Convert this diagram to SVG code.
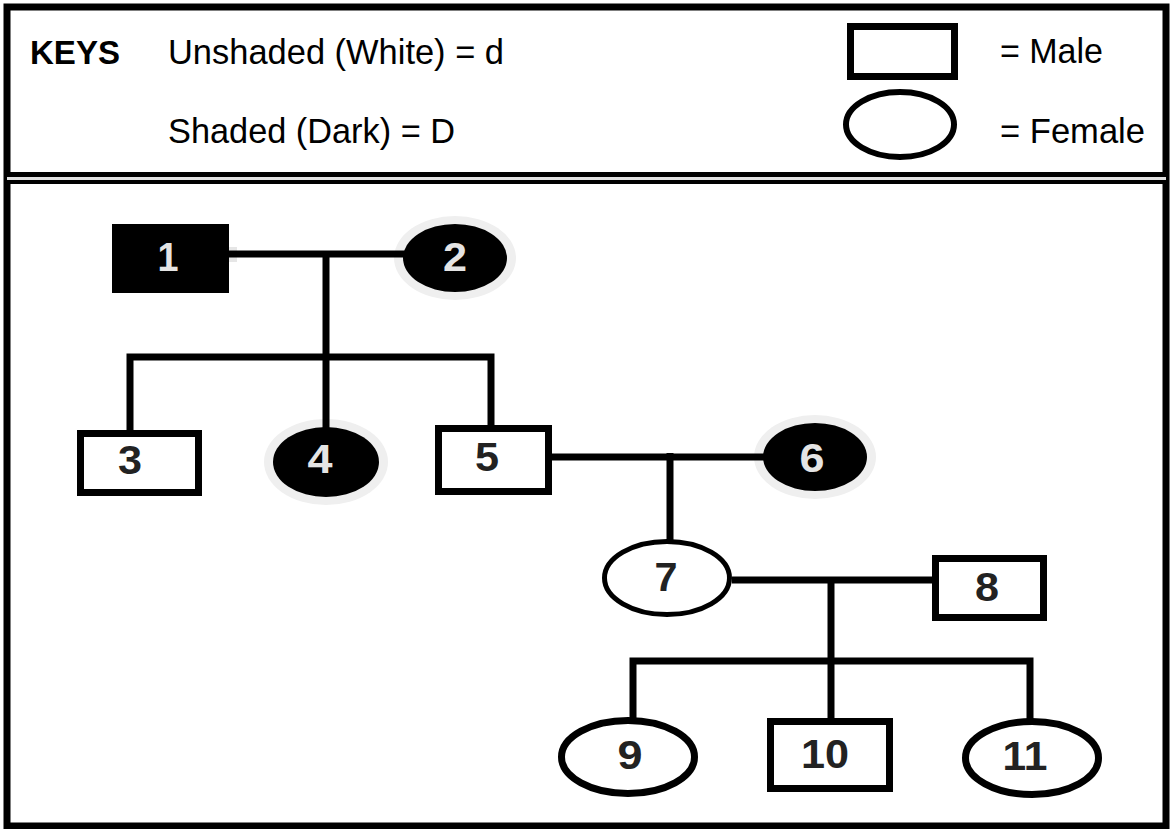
<svg xmlns="http://www.w3.org/2000/svg" width="1171" height="829" viewBox="0 0 1171 829">
<style>
.t{font-family:"Liberation Sans",Arial,sans-serif;font-size:35px;fill:#000}
.kb{font-weight:bold;font-size:33px}
.n{font-family:"Liberation Sans",Arial,sans-serif;font-size:40px;font-weight:bold;text-anchor:middle}
.dk{fill:#222}
.lt{fill:#e4e4e4}
.box{fill:#fff;stroke:#000;stroke-width:7}
.ov{fill:#fff;stroke:#000;stroke-width:7}
.blk{fill:#000}
.halo{fill:#efefef}
.c{fill:none;stroke:#000;stroke-width:7;stroke-linejoin:miter;stroke-linecap:butt}
</style>
<rect x="0" y="0" width="1171" height="829" fill="#fff"/>
<g id="frame">
<rect x="7" y="7" width="1159" height="819" fill="none" stroke="#000" stroke-width="7"/>
<line x1="7" y1="174.5" x2="1166" y2="174.5" stroke="#000" stroke-width="5"/>
<line x1="7" y1="178.5" x2="1166" y2="178.5" stroke="#e0e0e0" stroke-width="3"/>
<line x1="7" y1="182" x2="1166" y2="182" stroke="#000" stroke-width="4"/>
</g>
<g id="key">
<text class="t kb" x="30" y="64" textLength="90" lengthAdjust="spacingAndGlyphs">KEYS</text>
<text class="t" x="168" y="64" textLength="336" lengthAdjust="spacingAndGlyphs">Unshaded (White) = d</text>
<text class="t" x="168" y="143" textLength="287" lengthAdjust="spacingAndGlyphs">Shaded (Dark) = D</text>
<rect x="850.5" y="26.5" width="104" height="50" class="box"/>
<ellipse cx="900" cy="124.5" rx="54" ry="32.5" fill="#fff" stroke="#000" stroke-width="6"/>
<text class="t" x="1000" y="63" textLength="103" lengthAdjust="spacingAndGlyphs">= Male</text>
<text class="t" x="1000" y="143" textLength="145" lengthAdjust="spacingAndGlyphs">= Female</text>
</g>
<g id="halos">
<rect x="229" y="247" width="8" height="15" fill="#e6e6e6"/>
<ellipse cx="455" cy="258" rx="61" ry="42" class="halo"/>
<ellipse cx="326" cy="462" rx="62" ry="43" class="halo"/>
<ellipse cx="815" cy="457" rx="61" ry="42" class="halo"/>
</g>
<g id="connectors">
<line class="c" x1="229" y1="254" x2="406" y2="254" stroke-width="6"/>
<line class="c" x1="326" y1="254" x2="326" y2="357" stroke-width="8"/>
<path class="c" d="M130,432 V357 H491 V427" stroke-width="8"/>
<line class="c" x1="326" y1="357" x2="326" y2="429" stroke-width="8"/>
<line class="c" x1="552" y1="457" x2="765" y2="457"/>
<line class="c" x1="670" y1="453" x2="670" y2="541"/>
<line class="c" x1="732" y1="580" x2="933" y2="580"/>
<line class="c" x1="831" y1="580" x2="831" y2="661"/>
<path class="c" d="M633,721 V661 H1030 V721"/>
<line class="c" x1="831" y1="661" x2="831" y2="719"/>
</g>
<g id="n1">
<rect x="112" y="224" width="117" height="69" class="blk"/>
<text class="n lt" x="168" y="271" textLength="21" lengthAdjust="spacingAndGlyphs">1</text>
</g>
<g id="n2">
<ellipse cx="455" cy="258" rx="52" ry="34" class="blk"/>
<text class="n lt" x="455" y="271" textLength="24" lengthAdjust="spacingAndGlyphs">2</text>
</g>
<g id="n3">
<rect x="80.5" y="433.5" width="118" height="59" class="box"/>
<text class="n dk" x="130" y="474" textLength="24" lengthAdjust="spacingAndGlyphs">3</text>
</g>
<g id="n4">
<ellipse cx="326" cy="462" rx="53" ry="35" class="blk"/>
<text class="n lt" x="320" y="473" textLength="25" lengthAdjust="spacingAndGlyphs">4</text>
</g>
<g id="n5">
<rect x="438.5" y="428.5" width="110" height="63" class="box"/>
<text class="n dk" x="487" y="471" textLength="24" lengthAdjust="spacingAndGlyphs">5</text>
</g>
<g id="n6">
<ellipse cx="815" cy="457" rx="52" ry="34" class="blk"/>
<text class="n lt" x="812" y="472" textLength="25" lengthAdjust="spacingAndGlyphs">6</text>
</g>
<g id="n7">
<ellipse cx="667" cy="578" rx="62.5" ry="36.5" fill="#fff" stroke="#000" stroke-width="5"/>
<text class="n dk" x="666" y="591" textLength="23" lengthAdjust="spacingAndGlyphs">7</text>
</g>
<g id="n8">
<rect x="935.5" y="558.5" width="108" height="59" class="box"/>
<text class="n dk" x="987" y="601" textLength="24" lengthAdjust="spacingAndGlyphs">8</text>
</g>
<g id="n9">
<ellipse cx="628" cy="757" rx="66.5" ry="36.5" class="ov"/>
<text class="n dk" x="630" y="769" textLength="25" lengthAdjust="spacingAndGlyphs">9</text>
</g>
<g id="n10">
<rect x="770.5" y="721.5" width="119" height="67" class="box"/>
<text class="n dk" x="825" y="768" textLength="48" lengthAdjust="spacingAndGlyphs">10</text>
</g>
<g id="n11">
<ellipse cx="1032" cy="758" rx="66.5" ry="36.5" class="ov"/>
<text class="n dk" x="1025" y="770" textLength="45" lengthAdjust="spacingAndGlyphs">11</text>
</g>
</svg>
